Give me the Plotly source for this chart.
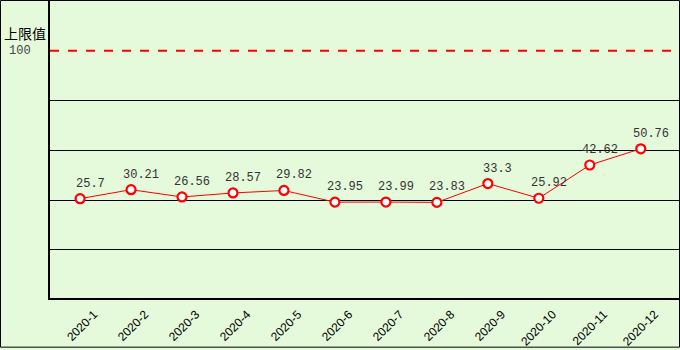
import plotly.graph_objects as go

months = ["2020-1", "2020-2", "2020-3", "2020-4", "2020-5", "2020-6",
          "2020-7", "2020-8", "2020-9", "2020-10", "2020-11", "2020-12"]
values = [25.7, 30.21, 26.56, 28.57, 29.82, 23.95, 23.99, 23.83, 33.3, 25.92, 42.62, 50.76]
labels = ["25.7", "30.21", "26.56", "28.57", "29.82", "23.95", "23.99", "23.83", "33.3", "25.92", "42.62", "50.76"]
limit_value = 100
limit_title = "上限值"
grid_vals = [0, 25, 50, 75]

W, H = 680, 350
ML, MR, MT, MB = 50, 1, 1, 50
pw, ph = W - ML - MR, H - MT - MB
bg = "#E5F9DB"
label_font = "Liberation Mono, DejaVu Sans Mono, monospace"

idx = list(range(len(months)))

fig = go.Figure()
fig.add_trace(go.Scatter(
    x=idx, y=values, mode="lines+markers",
    line=dict(color="#FF0000", width=1),
    marker=dict(symbol="circle", size=9, color="white",
                line=dict(color="#FF0000", width=2.2)),
    hoverinfo="skip", showlegend=False,
))

for i, (v, t) in enumerate(zip(values, labels)):
    fig.add_annotation(x=i, y=v, text=t, showarrow=False, xshift=10, yshift=15,
                       font=dict(family=label_font, size=12, color="#333333"))

# limit line
fig.add_shape(type="line", xref="paper", yref="y", x0=0, x1=1, y0=limit_value, y1=limit_value,
              line=dict(color="#FF0000", width=2, dash="dash"))

fig.add_annotation(xref="paper", yref="y", x=(20 - ML) / pw, y=limit_value, text=str(limit_value),
                   showarrow=False, xanchor="center",
                   font=dict(family=label_font, size=12, color="#444444"))
fig.add_annotation(xref="paper", yref="paper", x=(25 - ML) / pw, y=(MT + ph - 33) / ph,
                   text=limit_title, showarrow=False, xanchor="center", yanchor="middle",
                   font=dict(family="Noto Sans CJK SC", size=14, color="#000000"))

# outer border
fig.add_shape(type="rect", xref="paper", yref="paper",
              x0=(0.5 - ML) / pw, x1=(W - 0.5 - ML) / pw,
              y0=(MT + ph - (H - 0.5)) / ph, y1=(MT + ph - 0.5) / ph,
              line=dict(color="black", width=1), fillcolor="rgba(0,0,0,0)")

fig.update_layout(
    width=W, height=H,
    margin=dict(l=ML, r=MR, t=MT, b=MB),
    paper_bgcolor=bg, plot_bgcolor=bg,
    xaxis=dict(range=[-0.59, 11.75], tickmode="array", tickvals=idx, ticktext=months,
               tickangle=-45, showgrid=False, zeroline=False,
               showline=True, linecolor="black", linewidth=1.5, ticks="",
               ticklabelshift=14, ticklabelstandoff=3,
               tickfont=dict(family="Liberation Sans, Arial, sans-serif", size=12, color="black")),
    yaxis=dict(range=[-24.2, 125], tickmode="array", tickvals=grid_vals,
               showticklabels=False, showgrid=True, gridcolor="black", gridwidth=1,
               zeroline=False, showline=True, linecolor="black", linewidth=1.5, ticks=""),
)

fig.write_html("out.html")
